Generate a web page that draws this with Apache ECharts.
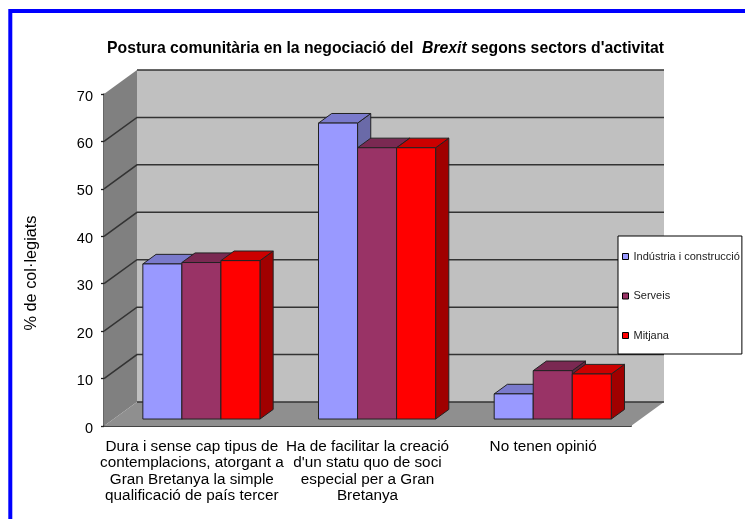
<!DOCTYPE html>
<html>
<head>
<meta charset="utf-8">
<script src="https://cdn.jsdelivr.net/npm/echarts@6/dist/echarts.min.js"></script>
<style>html,body{margin:0;padding:0;background:#fff}#chart{width:745px;height:519px}</style>
</head>
<body>
<div id="chart"></div>
<script>
var categories = [
    'Dura i sense cap tipus de\ncontemplacions, atorgant a\nGran Bretanya la simple\nqualificació de país tercer',
    'Ha de facilitar la creació\nd\'un statu quo de soci\nespecial per a Gran\nBretanya',
    'No tenen opinió'
];
var industria = [32.7, 62.4, 5.3];
var serveis = [33.0, 57.2, 10.2];
var mitjana = [33.4, 57.2, 9.5];
var yTicks = [0, 10, 20, 30, 40, 50, 60, 70];
var seriesNames = ['Indústria i construcció', 'Serveis', 'Mitjana'];

var FONT = '"Liberation Sans", Arial, sans-serif';
// 3d look: how far the back wall is pushed from the front plane, in px
var DEPTH_X = 33, DEPTH_Y = 24;
// bars sit between these fractions of the depth
var BAR_FROM = 0.29, BAR_TO = 0.69;

// colours: front, top, side
var colors = [
    ['#9999ff', '#7a7acc', '#6a6aa8'],
    ['#993366', '#7a2952', '#66223f'],
    ['#ff0000', '#cc0000', '#a00000']
];

function poly(points, fill, stroke, width) {
    return {
        type: 'polygon',
        shape: {points: points},
        style: {fill: fill, stroke: stroke || null, lineWidth: width || 0}
    };
}

function barSeries(idx, values) {
    return {
        name: seriesNames[idx],
        type: 'custom',
        z: 5 + idx,
        data: values.map(function (v, i) { return [i, v]; }),
        renderItem: function (params, api) {
            var cat = api.value(0);
            var top = api.coord([cat, api.value(1)]);
            var base = api.coord([cat, 0]);
            var w = api.size([1, 0])[0] / 4.5;
            var x0 = top[0] + DEPTH_X * BAR_FROM + (idx - 1.5) * w;
            var x1 = x0 + w;
            var y0 = top[1] - DEPTH_Y * BAR_FROM;
            var y1 = base[1] - DEPTH_Y * BAR_FROM;
            var dx = DEPTH_X * (BAR_TO - BAR_FROM);
            var dy = DEPTH_Y * (BAR_TO - BAR_FROM);
            var edge = '#222';
            return {
                type: 'group',
                children: [
                    poly([[x1, y0], [x1 + dx, y0 - dy], [x1 + dx, y1 - dy], [x1, y1]], colors[idx][2], edge, 1),
                    poly([[x0, y0], [x0 + dx, y0 - dy], [x1 + dx, y0 - dy], [x1, y0]], colors[idx][1], edge, 1),
                    poly([[x0, y0], [x1, y0], [x1, y1], [x0, y1]], colors[idx][0], edge, 1)
                ]
            };
        }
    };
}

var wallSeries = {
    type: 'custom',
    z: 1,
    silent: true,
    data: [[0, 0]],
    renderItem: function (params) {
        var c = params.coordSys;
        var l = c.x, r = c.x + c.width, t = c.y, b = c.y + c.height;
        return {
            type: 'group',
            children: [
                poly([[l + DEPTH_X, t - DEPTH_Y], [r + DEPTH_X, t - DEPTH_Y], [r + DEPTH_X, b - DEPTH_Y], [l + DEPTH_X, b - DEPTH_Y]], '#c0c0c0'),
                poly([[l, t], [l + DEPTH_X, t - DEPTH_Y], [l + DEPTH_X, b - DEPTH_Y], [l, b]], '#808080'),
                poly([[l, b], [l + DEPTH_X, b - DEPTH_Y], [r + DEPTH_X, b - DEPTH_Y], [r, b]], '#8f8f8f')
            ]
        };
    }
};

var gridSeries = {
    type: 'custom',
    z: 2,
    silent: true,
    data: yTicks.map(function (t) { return [0, t]; }),
    renderItem: function (params, api) {
        var c = params.coordSys;
        var v = api.value(1);
        var y = api.coord([0, v])[1];
        var pts = [[c.x + DEPTH_X, y - DEPTH_Y], [c.x + c.width + DEPTH_X, y - DEPTH_Y]];
        // the side wall has no line on its top and bottom edge
        if (v > 0 && v < 70) pts.unshift([c.x, y]);
        return {
            type: 'polyline',
            shape: {points: pts},
            style: {fill: null, stroke: '#333', lineWidth: 1.5}
        };
    }
};

var chart = echarts.init(document.getElementById('chart'));
chart.setOption({
    animation: false,
    backgroundColor: '#fff',
    title: {
        text: '{b|Postura comunitària en la negociació del  }{i|Brexit}{b| segons sectors d\'activitat}',
        left: 102,
        top: 36,
        textStyle: {
            rich: {
                b: {fontFamily: FONT, fontSize: 15.75, fontWeight: 'bold', color: '#000'},
                i: {fontFamily: FONT, fontSize: 15.75, fontWeight: 'bold', fontStyle: 'italic', color: '#000'}
            }
        }
    },
    graphic: [{
        type: 'polyline',
        silent: true,
        shape: {points: [[10.3, 519], [10.3, 11], [745, 11]]},
        style: {fill: null, stroke: '#0000ff', lineWidth: 4}
    }],
    grid: {left: 104, right: 114, top: 94, bottom: 93},
    xAxis: {
        type: 'category',
        data: categories,
        axisLine: {lineStyle: {color: '#444', width: 2}},
        axisTick: {length: 4, lineStyle: {color: '#222', width: 1.3}},
        axisLabel: {interval: 0, fontFamily: FONT, fontSize: 15.3, color: '#000', lineHeight: 16.6, margin: 12}
    },
    yAxis: {
        type: 'value',
        min: 0,
        max: 70,
        interval: 10,
        name: '% de col·legiats',
        nameLocation: 'middle',
        nameRotate: 90,
        nameGap: 64,
        nameTextStyle: {fontFamily: FONT, fontSize: 16.3, color: '#000', padding: [0, 26, 0, 0]},
        axisLine: {show: true, lineStyle: {color: '#333', width: 1.5}},
        axisTick: {show: true, length: 3, lineStyle: {color: '#222', width: 1.3}},
        axisLabel: {fontFamily: FONT, fontSize: 14.5, color: '#000', margin: 11, verticalAlign: 'top', padding: [-5, 0, 0, 0]},
        splitLine: {show: false}
    },
    legend: {
        orient: 'vertical',
        left: 618,
        top: 236,
        padding: [15, 2, 13, 4],
        itemWidth: 6,
        itemHeight: 6,
        itemGap: 28.5,
        backgroundColor: '#fff',
        borderColor: '#000',
        borderWidth: 1,
        z: 10,
        textStyle: {fontFamily: FONT, fontSize: 11, color: '#222'},
        data: seriesNames.map(function (n, i) {
            return {name: n, icon: 'rect', itemStyle: {color: colors[i][0], borderColor: '#000', borderWidth: 1}};
        })
    },
    series: [wallSeries, gridSeries, barSeries(0, industria), barSeries(1, serveis), barSeries(2, mitjana)]
});
</script>
</body>
</html>
